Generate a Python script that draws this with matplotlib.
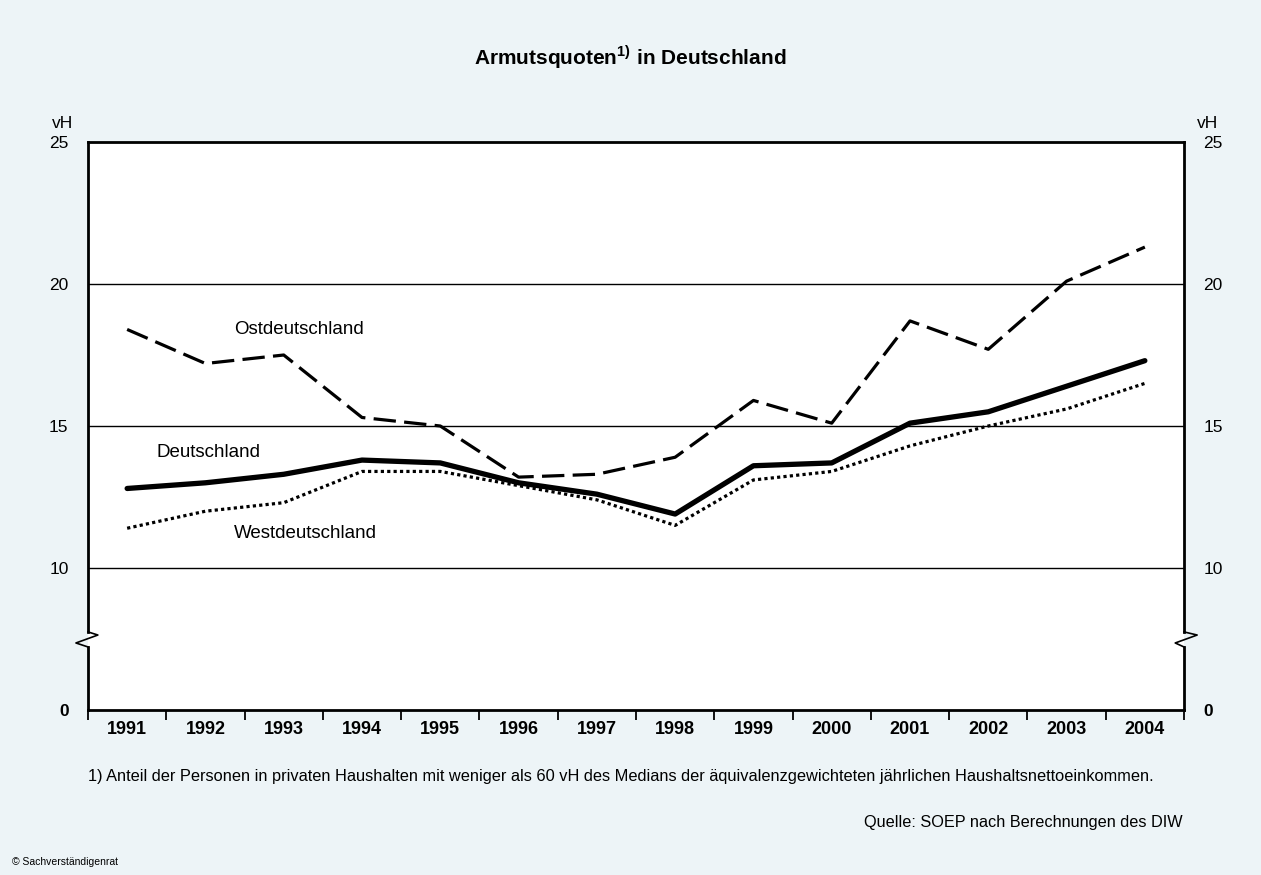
import matplotlib.pyplot as plt
import matplotlib.transforms as mtransforms

plt.rcParams['font.family'] = ['Liberation Sans', 'DejaVu Sans']

jahre = ['1991', '1992', '1993', '1994', '1995', '1996', '1997',
         '1998', '1999', '2000', '2001', '2002', '2003', '2004']
deutschland = [12.8, 13.0, 13.3, 13.8, 13.7, 13.0, 12.6, 11.9, 13.6, 13.7, 15.1, 15.5, 16.4, 17.3]
ost = [18.4, 17.2, 17.5, 15.3, 15.0, 13.2, 13.3, 13.9, 15.9, 15.1, 18.7, 17.7, 20.1, 21.3]
west = [11.4, 12.0, 12.3, 13.4, 13.4, 12.9, 12.4, 11.5, 13.1, 13.4, 14.3, 15.0, 15.6, 16.5]
ytick_pos = [5, 10, 15, 20, 25]
ytick_lab = ['0', '10', '15', '20', '25']

bg = '#edf4f7'
fig = plt.figure(figsize=(12.61, 8.75), dpi=100, facecolor=bg)
ax = fig.add_axes([88/1261, 165/875, 1096/1261, 568/875])
ax.set_facecolor('white')

x = list(range(len(jahre)))
for y in [10, 15, 20]:
    ax.axhline(y, color='black', lw=1.0, zorder=1)

ax.plot(x, ost, color='black', lw=2.3, dashes=(7.0, 2.6), zorder=3)
ax.plot(x, west, color='black', lw=2.3, dashes=(1.0, 1.0), zorder=3)
ax.plot(x, deutschland, color='black', lw=3.8, solid_capstyle='round', zorder=4)

ax.set_xlim(-0.5, len(jahre) - 0.5)
ax.set_ylim(5, 25)

# x axis: labels centered, ticks at category borders
ax.set_xticks(x)
ax.set_xticklabels(jahre, fontsize=13, fontweight='bold')
ax.tick_params(axis='x', which='major', length=0, pad=8)
ax.set_xticks([i - 0.5 for i in range(len(jahre) + 1)], minor=True)
ax.tick_params(axis='x', which='minor', length=7, width=1.3, direction='out')

ax.set_yticks(ytick_pos)
ax.set_yticklabels(ytick_lab, fontsize=12.5)
ax.tick_params(axis='y', length=0, pad=14, labelright=True, labelleft=True)
for tk in ax.yaxis.get_major_ticks():
    if tk.label1.get_text() == '0':
        tk.label1.set_fontweight('bold')
        tk.label2.set_fontweight('bold')

for s in ['top', 'bottom']:
    ax.spines[s].set_linewidth(2.0)
ax.spines['left'].set_visible(False)
ax.spines['right'].set_visible(False)

# side axes with break marks
tr = mtransforms.blended_transform_factory(ax.transAxes, ax.transData)
for x0, xr, xl in [(0.0, 0.009, -0.011), (1.0, 1.012, 0.992)]:
    ax.plot([x0, x0], [5, 7.22], color='black', lw=2.0, transform=tr, clip_on=False, zorder=5)
    ax.plot([x0, x0], [7.75, 25], color='black', lw=2.0, transform=tr, clip_on=False, zorder=5,
            solid_capstyle='projecting')
    ax.plot([x0, xr, xl, x0], [7.75, 7.64, 7.36, 7.22], color='black', lw=1.2,
            transform=tr, clip_on=False, zorder=5)

ax.text(1.37, 18.4, 'Ostdeutschland', fontsize=13.5, ha='left', va='center')
ax.text(0.38, 14.05, 'Deutschland', fontsize=13.5, ha='left', va='center')
ax.text(1.37, 11.2, 'Westdeutschland', fontsize=13.5, ha='left', va='center')

fig.text(63/1261, 1 - 124/875, 'vH', fontsize=12.5, ha='center', va='center')
fig.text(1208/1261, 1 - 124/875, 'vH', fontsize=12.5, ha='center', va='center')

fig.text(0.5, 1 - 57/875, r'Armutsquoten$^{\mathregular{1)}}$ in Deutschland',
         fontsize=15, fontweight='bold', ha='center', va='center')
fig.text(88/1261, 1 - 777/875,
         '1) Anteil der Personen in privaten Haushalten mit weniger als 60 vH des Medians '
         'der äquivalenzgewichteten jährlichen Haushaltsnettoeinkommen.',
         fontsize=11.8, ha='left', va='center')
fig.text(1183/1261, 1 - 822/875, 'Quelle: SOEP nach Berechnungen des DIW',
         fontsize=11.7, ha='right', va='center')
fig.text(12/1261, 1 - 862/875, '© Sachverständigenrat', fontsize=7.5, ha='left', va='center')

fig.savefig('out.png', dpi=100, facecolor=bg)
